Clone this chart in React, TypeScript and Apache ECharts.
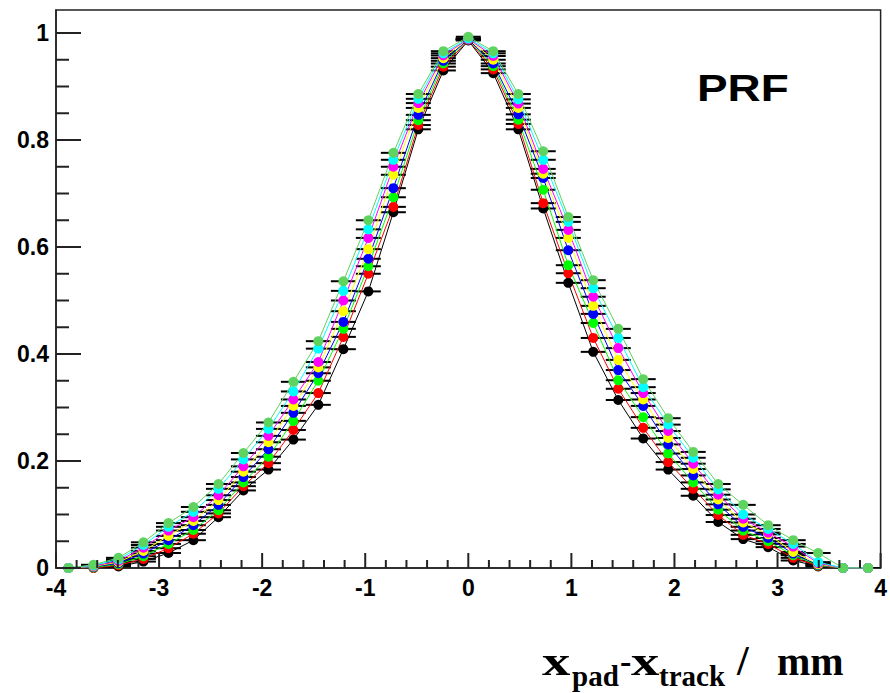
import React, { useEffect, useRef } from "react";
import * as echarts from "echarts";

// bin centres (33 bins over [-4, 4])
const xCenters = [
  -3.879, -3.636, -3.394, -3.152, -2.909, -2.667, -2.424, -2.182, -1.939, -1.697,
  -1.455, -1.212, -0.970, -0.727, -0.485, -0.242, 0, 0.242, 0.485, 0.727, 0.970,
  1.212, 1.455, 1.697, 1.939, 2.182, 2.424, 2.667, 2.909, 3.152, 3.394, 3.636, 3.879,
];
const binHalfWidth = 0.1212;

const blackVals = [0, 0, 0.003, 0.012, 0.028, 0.052, 0.095, 0.145, 0.184, 0.240, 0.305, 0.409, 0.517, 0.665, 0.820, 0.930, 0.986, 0.925, 0.820, 0.672, 0.533, 0.404, 0.314, 0.242, 0.184, 0.135, 0.086, 0.054, 0.039, 0.014, 0.003, 0, 0];
const redVals = [0, 0, 0.005, 0.017, 0.037, 0.064, 0.102, 0.153, 0.196, 0.258, 0.327, 0.432, 0.550, 0.675, 0.828, 0.937, 0.987, 0.932, 0.830, 0.682, 0.551, 0.430, 0.335, 0.262, 0.198, 0.148, 0.099, 0.062, 0.045, 0.019, 0.004, 0, 0];
const greenVals = [0, 0.001, 0.007, 0.022, 0.045, 0.071, 0.108, 0.160, 0.208, 0.275, 0.350, 0.447, 0.564, 0.693, 0.837, 0.943, 0.988, 0.938, 0.838, 0.707, 0.566, 0.458, 0.351, 0.282, 0.214, 0.160, 0.109, 0.070, 0.050, 0.024, 0.005, 0, 0];
const blueVals = [0, 0.002, 0.009, 0.027, 0.052, 0.080, 0.118, 0.170, 0.222, 0.290, 0.364, 0.460, 0.578, 0.710, 0.847, 0.948, 0.988, 0.943, 0.848, 0.729, 0.594, 0.475, 0.370, 0.303, 0.231, 0.173, 0.119, 0.077, 0.056, 0.027, 0.006, 0, 0];
const yellowVals = [0, 0.003, 0.011, 0.032, 0.060, 0.088, 0.127, 0.180, 0.235, 0.303, 0.375, 0.480, 0.596, 0.735, 0.860, 0.953, 0.989, 0.950, 0.860, 0.737, 0.617, 0.490, 0.389, 0.315, 0.243, 0.185, 0.128, 0.085, 0.063, 0.030, 0.007, 0, 0];
const magentaVals = [0, 0.004, 0.013, 0.038, 0.070, 0.095, 0.136, 0.190, 0.247, 0.315, 0.385, 0.500, 0.617, 0.750, 0.869, 0.958, 0.989, 0.957, 0.868, 0.746, 0.632, 0.507, 0.411, 0.327, 0.256, 0.195, 0.137, 0.092, 0.066, 0.040, 0.009, 0, 0];
const cyanVals = [0, 0.005, 0.016, 0.043, 0.077, 0.105, 0.148, 0.203, 0.260, 0.330, 0.410, 0.518, 0.633, 0.763, 0.877, 0.962, 0.990, 0.962, 0.876, 0.763, 0.647, 0.523, 0.430, 0.338, 0.268, 0.206, 0.147, 0.100, 0.073, 0.045, 0.011, 0, 0];
const lightGreenVals = [0, 0.006, 0.019, 0.048, 0.084, 0.114, 0.157, 0.215, 0.272, 0.348, 0.424, 0.536, 0.650, 0.776, 0.886, 0.966, 0.993, 0.966, 0.886, 0.779, 0.656, 0.538, 0.447, 0.353, 0.280, 0.217, 0.157, 0.118, 0.080, 0.052, 0.028, 0, 0];

const seriesNames = ["black", "red", "green", "blue", "yellow", "magenta", "cyan", "lightgreen"];
const seriesColors = ["#000000", "#ff0000", "#00ff00", "#0000ff", "#ffff00", "#ff00ff", "#00ffff", "#5fd35f"];
const seriesValues = [blackVals, redVals, greenVals, blueVals, yellowVals, magentaVals, cyanVals, lightGreenVals];

// axis tick positions (ROOT style ticks drawn inside the frame)
const yMajorTicks = [0, 0.2, 0.4, 0.6, 0.8, 1.0];
const yMinorTicks = [0.05, 0.1, 0.15, 0.25, 0.3, 0.35, 0.45, 0.5, 0.55, 0.65, 0.7, 0.75, 0.85, 0.9, 0.95];
const xMajorTicks = [-4, -3, -2, -1, 0, 1, 2, 3, 4];
const xMinorTicks = [
  -3.8, -3.6, -3.4, -3.2, -2.8, -2.6, -2.4, -2.2, -1.8, -1.6, -1.4, -1.2, -0.8, -0.6, -0.4, -0.2,
  0.2, 0.4, 0.6, 0.8, 1.2, 1.4, 1.6, 1.8, 2.2, 2.4, 2.6, 2.8, 3.2, 3.4, 3.6, 3.8,
];

const X_MIN = -4;
const Y_MIN = 0;
const AXIS_COLOR = "#222";
const LABEL_FONT = "Liberation Sans";
const TITLE_FONT = "Liberation Serif";

export default function App() {
  const ref = useRef<HTMLDivElement>(null);

  useEffect(() => {
    if (!ref.current) return;
    const chart = echarts.init(ref.current, undefined, { renderer: "svg" });

    const series: any[] = [];
    seriesValues.forEach((vals, k) => {
      const data = xCenters.map((x, i) => [x, vals[i]]);
      series.push({
        type: "custom",
        name: seriesNames[k] + "-err",
        data,
        silent: true,
        clip: true,
        renderItem: (params: any, api: any) => {
          const x = api.value(0);
          const y = api.value(1);
          const p1 = api.coord([x - binHalfWidth, y]);
          const p2 = api.coord([x + binHalfWidth, y]);
          return {
            type: "line",
            shape: { x1: p1[0], y1: p1[1], x2: p2[0], y2: p2[1] },
            style: { stroke: "#000", lineWidth: 2 },
          };
        },
      });
      series.push({
        type: "line",
        name: seriesNames[k],
        data,
        symbol: "circle",
        symbolSize: 10,
        showSymbol: true,
        silent: true,
        lineStyle: { color: seriesColors[k], width: 1 },
        itemStyle: { color: seriesColors[k], borderWidth: 0 },
      });
    });

    const titleMain = `bold 42px "${TITLE_FONT}"`;
    const titleSub = `bold 29px "${TITLE_FONT}"`;
    const txt = (text: string, x: number, y: number, font: string, scaleX = 1) => ({
      type: "text",
      x,
      y,
      scaleX,
      silent: true,
      z: 20,
      style: {
        text,
        font,
        fill: "#000",
        align: "left",
        verticalAlign: "middle",
        textAlign: "left",
        textVerticalAlign: "middle",
      },
    });

    chart.setOption({
      animation: false,
      backgroundColor: "#ffffff",
      grid: {
        left: 56,
        top: 10,
        width: 825,
        height: 558,
        show: true,
        borderColor: AXIS_COLOR,
        borderWidth: 1.5,
      },
      xAxis: {
        type: "value",
        min: -4,
        max: 4,
        interval: 1,
        axisLine: { show: true, onZero: false, lineStyle: { color: AXIS_COLOR, width: 1.5 } },
        axisTick: { show: false },
        minorTick: { show: false },
        splitLine: { show: false },
        minorSplitLine: { show: false },
        axisLabel: {
          color: "#000",
          fontFamily: LABEL_FONT,
          fontWeight: "bold",
          fontSize: 23,
          margin: 8,
        },
      },
      yAxis: {
        type: "value",
        min: 0,
        max: 1.043,
        interval: 0.2,
        axisLine: { show: true, onZero: false, lineStyle: { color: AXIS_COLOR, width: 1.5 } },
        axisTick: { show: false },
        minorTick: { show: false },
        splitLine: { show: false },
        minorSplitLine: { show: false },
        axisLabel: {
          color: "#000",
          fontFamily: LABEL_FONT,
          fontWeight: "bold",
          fontSize: 23,
          margin: 7,
          showMaxLabel: false,
        },
      },
      series,
    });

    // ticks placed through the chart's own scales
    const tickLine = (x1: number, y1: number, x2: number, y2: number) => ({
      type: "line",
      silent: true,
      z: 10,
      shape: { x1, y1, x2, y2 },
      style: { stroke: AXIS_COLOR, lineWidth: 2 },
    });
    const ticks: any[] = [];
    const toPx = (pt: number[]) => {
      const p = chart.convertToPixel({ seriesIndex: 1 }, pt) as number[];
      return p && isFinite(p[0]) && isFinite(p[1]) ? p : null;
    };
    const addY = (vals: number[], len: number) =>
      vals.forEach((v) => {
        const p = toPx([X_MIN, v]);
        if (p) ticks.push(tickLine(p[0], p[1], p[0] + len, p[1]));
      });
    const addX = (vals: number[], len: number) =>
      vals.forEach((v) => {
        const p = toPx([v, Y_MIN]);
        if (p) ticks.push(tickLine(p[0], p[1], p[0], p[1] - len));
      });
    addY(yMajorTicks, 25);
    addY(yMinorTicks, 13);
    addX(xMajorTicks, 15);
    addX(xMinorTicks, 8);

    chart.setOption({
      graphic: [
        ...ticks,
        txt("PRF", 697, 88.5, `bold 37px "${LABEL_FONT}"`, 1.24),
        txt("x", 542, 661, titleMain, 1.35),
        txt("pad", 572, 676, titleSub),
        txt("-", 620, 661, `bold 34px "${TITLE_FONT}"`),
        txt("x", 631, 661, titleMain, 1.35),
        txt("track", 659, 676, titleSub),
        txt("/", 737, 661, titleMain),
        txt("mm", 777, 661, `bold 40px "${TITLE_FONT}"`),
      ],
    });

    return () => chart.dispose();
  }, []);

  return (
    <div
      ref={ref}
      style={{ position: "absolute", left: 0, top: 0, width: 890, height: 693, background: "#fff" }}
    />
  );
}
